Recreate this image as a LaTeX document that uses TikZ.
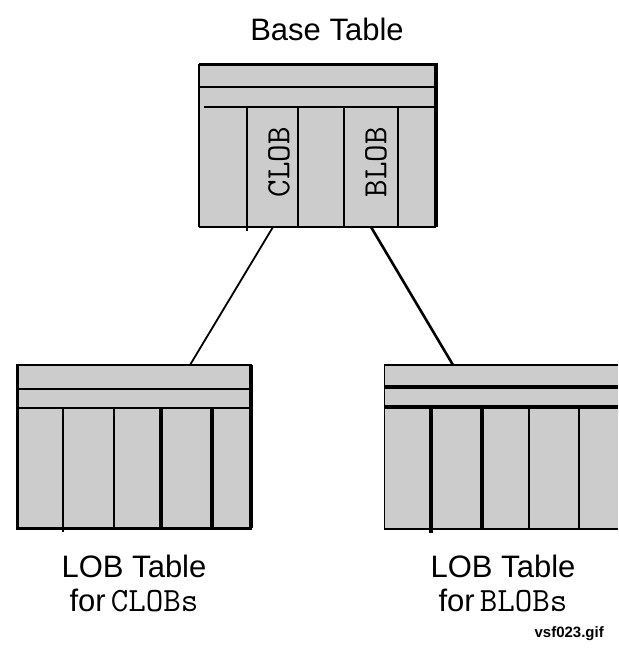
\documentclass[tikz,border=0pt]{standalone}
\usepackage{fontspec}
\setmainfont{Liberation Sans}
\begin{document}
\begin{tikzpicture}[x=1pt,y=-1pt,
  tablebody/.style={fill=black!20, draw=none, inner sep=0pt, outer sep=0pt, anchor=north west},
  thinrule/.style={line width=1.6pt},
  midrule/.style={line width=2.2pt},
  thickrule/.style={line width=3.8pt},
  link/.style={line width=1.8pt},
  caption/.style={font=\fontsize{31}{38}\selectfont, inner sep=0pt, anchor=base},
  colname/.style={font=\ttfamily\fontsize{34}{40}\selectfont, inner sep=0pt, rotate=90},
  filetag/.style={font=\bfseries\fontsize{15}{17}\selectfont, inner sep=0pt, anchor=base east}
]
\useasboundingbox (0,0) rectangle (618,650);

% --- base table ---
\node[tablebody, minimum width=237pt, minimum height=163pt] (base) at (199,64) {};
\draw[thickrule] (base.north west) ++(0,0.5) -- ++(239,0);
\draw[thinrule] (base.north west) -- (base.south west);
\draw[thickrule] (base.north east) ++(0,-1) -- (base.south east);
\draw[midrule] (base.south west) -- (base.south east);
\draw[midrule] (199,87) -- (436,87);
\draw[midrule] (204,107) -- (436,107);
\draw[midrule] (247,107) -- (247,231);
\draw[thinrule] (298,107) -- (298,227);
\draw[midrule] (344,107) -- (344,227);
\draw[thinrule] (398,107) -- (398,227);
\node[colname] (clobcol) at (279,162) {CLOB};
\node[colname] (blobcol) at (376,162) {BLOB};
\node[caption] (basecap) at (327,41) {Base Table};

% --- LOB table for CLOBs ---
\node[tablebody, minimum width=236pt, minimum height=163pt] (clobtab) at (16,365) {};
\draw[midrule] (clobtab.north west) -- (clobtab.north east);
\draw[thickrule] (clobtab.north west) ++(1.5,0) -- ++(0,163);
\draw[thickrule] (clobtab.north east) ++(-1,0) -- ++(0,163);
\draw[midrule] (clobtab.south west) ++(0,0.5) -- ++(236,0);
\draw[midrule] (16,389) -- (252,389);
\draw[midrule] (16,408) -- (252,408);
\draw[thinrule] (63,408) -- (63,532);
\draw[thinrule] (114,408) -- (114,528);
\draw[thickrule] (161,408) -- (161,528);
\draw[thickrule] (212,408) -- (212,528);
\node[caption] (clobcap1) at (134,577) {LOB Table};
\node[caption] (clobcap2) at (134,611) {for\,{\ttfamily\fontsize{34}{40}\selectfont CLOBs}};

% --- LOB table for BLOBs ---
\node[tablebody, minimum width=234pt, minimum height=164pt] (blobtab) at (384,365) {};
\draw[thinrule] (blobtab.north west) -- (blobtab.north east);
\draw[thinrule] (blobtab.north west) ++(0.5,0) -- ++(0,164);
\draw[midrule] (blobtab.south west) -- (blobtab.south east);
\draw[thickrule] (384,387) -- (618,387);
\draw[thickrule] (384,407) -- (618,407);
\draw[thickrule] (431,407) -- (431,533);
\draw[thickrule] (482,407) -- (482,529);
\draw[thinrule] (529,407) -- (529,529);
\draw[thinrule] (579,407) -- (579,529);
\node[caption] (blobcap1) at (503,577) {LOB Table};
\node[caption] (blobcap2) at (503,611) {for\,{\ttfamily\fontsize{34}{40}\selectfont BLOBs}};

% --- links from base columns to the LOB tables ---
\coordinate (clobout) at (273,227);
\coordinate (clobin) at (190,365);
\coordinate (blobout) at (371,227);
\coordinate (blobin) at (453,365);
\draw[link] (clobout) -- (clobin);
\draw[link, line width=2.6pt] (blobout) -- (blobin);

\node[filetag] (tag) at (604,637) {vsf023.gif};
\end{tikzpicture}
\end{document}
